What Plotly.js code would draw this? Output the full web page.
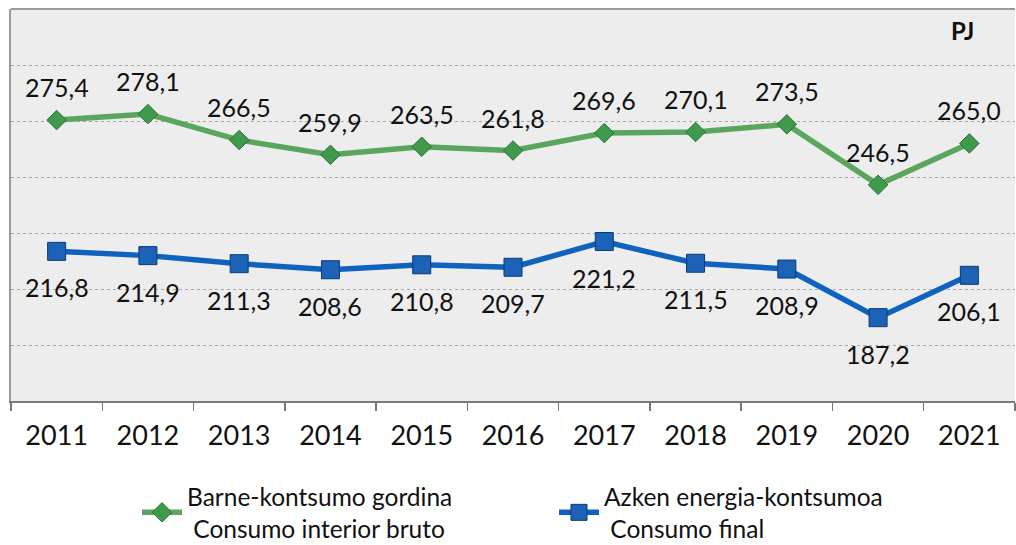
<!DOCTYPE html>
<html><head><meta charset="utf-8">
<script src="https://cdn.plot.ly/plotly-3.0.1.min.js"></script>
<style>html,body{margin:0;padding:0;background:#fff}</style>
</head><body>
<div id="chart" style="width:1016px;height:545px"></div>
<script>
const years = ['2011','2012','2013','2014','2015','2016','2017','2018','2019','2020','2021'];
const grossConsumption = [275.4, 278.1, 266.5, 259.9, 263.5, 261.8, 269.6, 270.1, 273.5, 246.5, 265.0];
const finalConsumption = [216.8, 214.9, 211.3, 208.6, 210.8, 209.7, 221.2, 211.5, 208.9, 187.2, 206.1];
const grossName = 'Barne-kontsumo gordina<br>\u00a0Consumo interior bruto';
const finalName = 'Azken energia-kontsumoa<br>\u00a0Consumo final';
const unitLabel = 'PJ';

const fmt = v => v.toFixed(1).replace('.', ',');
const FONT = 'Lato, "Open Sans", sans-serif';

const traces = [
  {
    x: years, y: grossConsumption, name: grossName, type: 'scatter', mode: 'lines+markers',
    line: {color: '#5aa65e', width: 5.5},
    marker: {symbol: 'diamond', size: 15, color: '#3f9a4b', line: {color: '#2c6e35', width: 1}},
    hoverinfo: 'skip'
  },
  {
    x: years, y: finalConsumption, name: finalName, type: 'scatter', mode: 'lines+markers',
    line: {color: '#0f63bf', width: 5.5},
    marker: {symbol: 'square', size: 18, color: '#1c63b8', line: {color: '#0b3a75', width: 1}},
    hoverinfo: 'skip'
  }
];

const W = 1016, H = 545, ml = 11, mr = 1, mt = 9, mb = 144;
const plotW = W - ml - mr, plotH = H - mt - mb;

const annotations = [];
years.forEach((yr, i) => {
  annotations.push({x: i, y: grossConsumption[i], xref: 'x', yref: 'y', text: fmt(grossConsumption[i]),
    showarrow: false, yshift: 33, font: {family: FONT, size: 25, color: '#111'}});
  annotations.push({x: i, y: finalConsumption[i], xref: 'x', yref: 'y', text: fmt(finalConsumption[i]),
    showarrow: false, yshift: -36, font: {family: FONT, size: 25, color: '#111'}});
});
annotations.push({
  x: (962 - ml) / plotW, y: 1 - (30 - mt) / plotH, xanchor: 'center', yanchor: 'middle',
  xref: 'paper', yref: 'paper', text: '<b>' + unitLabel + '</b>', showarrow: false,
  font: {family: FONT, size: 24, color: '#111'}
});

const layout = {
  width: W, height: H,
  margin: {l: ml, r: mr, t: mt, b: mb, pad: 0, autoexpand: false},
  paper_bgcolor: '#ffffff',
  plot_bgcolor: '#ededed',
  showlegend: true,
  font: {family: FONT, size: 24, color: '#111'},
  xaxis: {
    type: 'category', tickson: 'boundaries', ticks: 'outside', ticklen: 8, tickwidth: 1.5, tickcolor: '#777',
    showline: true, linecolor: '#7a7a7a', linewidth: 2, mirror: false,
    showgrid: false, tickfont: {family: FONT, size: 27, color: '#111'}, ticklabelstandoff: 10,
    range: [-0.5, 10.5], fixedrange: true, automargin: false
  },
  yaxis: {
    range: [150, 325], dtick: 25, tick0: 150, showticklabels: false, ticks: '',
    showgrid: true, gridcolor: '#a8a8a8', griddash: 'dot', gridwidth: 1,
    zeroline: false, showline: true, linecolor: '#9a9a9a', linewidth: 2, fixedrange: true, automargin: false
  },
  shapes: [
    {type: 'line', xref: 'paper', yref: 'paper', x0: 0, x1: 1, y0: 1, y1: 1, line: {color: '#9a9a9a', width: 2}}
  ],
  legend: {
    orientation: 'h', x: (137 - ml) / plotW, xanchor: 'left', y: -(474 - 401) / plotH, yanchor: 'top',
    font: {family: FONT, size: 24.5, color: '#111'}, bgcolor: 'rgba(0,0,0,0)',
    itemwidth: 40, tracegroupgap: 0, entrywidth: 362, entrywidthmode: 'pixels'
  },
  annotations: annotations
};

Plotly.newPlot('chart', traces, layout, {displayModeBar: false, staticPlot: true});
</script>
</body></html>
